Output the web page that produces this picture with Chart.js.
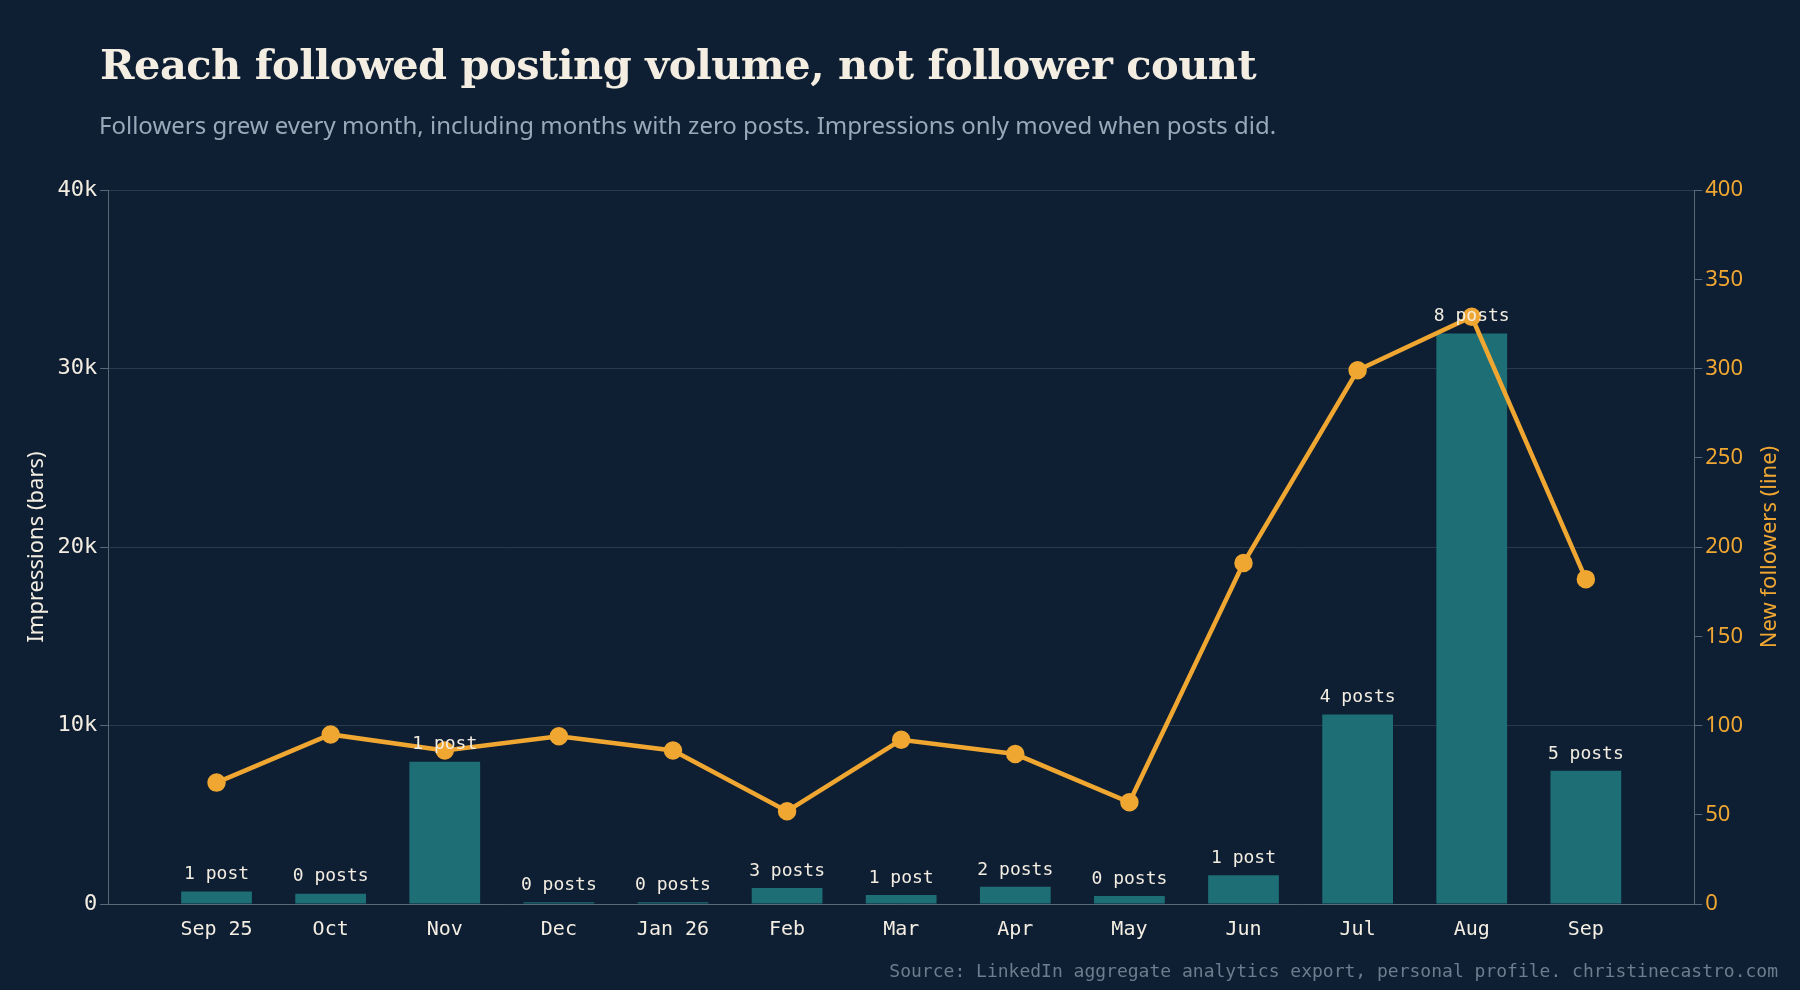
<!DOCTYPE html>
<html><head><meta charset="utf-8">
<script src="https://cdn.jsdelivr.net/npm/chart.js@4/dist/chart.umd.min.js"></script>
<style>
html,body{margin:0;background:#0f1f33;width:1800px;height:990px;overflow:hidden}
#wrap{position:absolute;left:0;top:0;width:1800px;height:990px}
h1{position:absolute;left:100px;top:40px;margin:0;font:bold 41.5px "DejaVu Serif",serif;color:#f3ede2;letter-spacing:-0.5px}
#sub{position:absolute;left:99px;top:108px;font:24px "Noto Sans",sans-serif;color:#9aa9b9}
#src{position:absolute;right:22px;top:960px;font:18px "DejaVu Sans Mono",monospace;color:#6d7d8f}
canvas{position:absolute;left:0;top:0}
</style></head><body>
<div id="wrap"><canvas id="c" width="1800" height="990"></canvas></div>
<h1>Reach followed posting volume, not follower count</h1>
<div id="sub">Followers grew every month, including months with zero posts. Impressions only moved when posts did.</div>
<div id="src">Source: LinkedIn aggregate analytics export, personal profile. christinecastro.com</div>
<script>
const months = ["Sep 25","Oct","Nov","Dec","Jan 26","Feb","Mar","Apr","May","Jun","Jul","Aug","Sep"];
const impressions = [700,580,7970,100,100,900,510,960,450,1610,10610,31960,7460];
const newFollowers = [68,95,86,94,86,52,92,84,57,191,299,329,182];
const posts = [1,0,1,0,0,3,1,2,0,1,4,8,5];

const mono = "'DejaVu Sans Mono', monospace";
const postLabels = {
  id: "postLabels",
  afterDatasetsDraw(chart) {
    const ctx = chart.ctx, meta = chart.getDatasetMeta(0);
    ctx.save();
    ctx.font = "18px " + mono;
    ctx.fillStyle = "#f3ede2";
    ctx.textAlign = "center";
    ctx.textBaseline = "bottom";
    meta.data.forEach((bar, i) => {
      const n = posts[i];
      ctx.fillText(n + (n === 1 ? " post" : " posts"), bar.x, bar.y - 8);
    });
    // right axis title, reading bottom to top
    const a = chart.chartArea;
    ctx.translate(1770, (a.top + a.bottom) / 2);
    ctx.rotate(-Math.PI / 2);
    ctx.font = "22px 'Noto Sans', sans-serif";
    ctx.fillStyle = "#f0a732";
    ctx.textBaseline = "middle";
    ctx.fillText("New followers (line)", 0, 0);
    ctx.restore();
  }
};

new Chart(document.getElementById("c"), {
  data: {
    datasets: [
      { type: "bar", label: "Impressions", data: impressions.map((v, i) => ({ x: i, y: v })), yAxisID: "y",
        backgroundColor: "#1d6e75", barPercentage: 0.62, categoryPercentage: 1, order: 2 },
      { type: "line", label: "New followers", data: newFollowers.map((v, i) => ({ x: i, y: v })), yAxisID: "y1",
        borderColor: "#f0a732", backgroundColor: "#f0a732", borderWidth: 4.5,
        pointRadius: 7, pointHoverRadius: 7, tension: 0, order: 1 }
    ]
  },
  plugins: [postLabels],
  options: {
    responsive: false,
    animation: false,
    layout: { padding: { left: 20, right: 54, top: 190, bottom: 42 } },
    plugins: { legend: { display: false }, tooltip: { enabled: false } },
    scales: {
      x: {
        type: "linear", min: -0.95, max: 12.95, offset: false,
        grid: { display: false },
        border: { color: "#5a6878" },
        afterBuildTicks: s => { s.ticks = months.map((m, i) => ({ value: i })); },
        ticks: { color: "#f3ede2", font: { family: mono, size: 20 }, padding: 6,
          autoSkip: false, maxRotation: 0, callback: v => months[v] ?? "" }
      },
      y: {
        position: "left", min: 0, max: 40000,
        ticks: { stepSize: 10000, color: "#f3ede2", font: { family: mono, size: 22 },
          callback: v => v === 0 ? "0" : (v / 1000) + "k" },
        grid: { color: "#2a3a4d", tickColor: "#5a6878", tickLength: 8 },
        border: { color: "#5a6878" },
        title: { display: true, text: "Impressions (bars)", color: "#f3ede2",
          font: { family: "'Noto Sans', sans-serif", size: 22 } }
      },
      y1: {
        position: "right", min: 0, max: 400,
        ticks: { stepSize: 50, color: "#f0a732", font: { family: "'Noto Sans', sans-serif", size: 22 } },
        grid: { drawOnChartArea: false, tickColor: "#5a6878", tickLength: 8 },
        border: { color: "#5a6878" }
      }
    }
  }
});
</script>
</body></html>
